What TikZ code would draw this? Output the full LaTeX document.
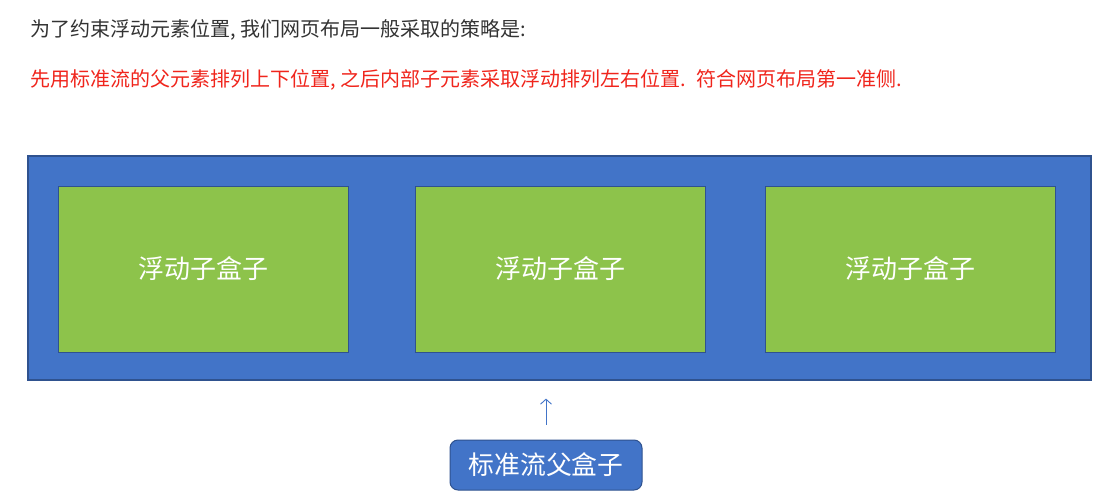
\documentclass[tikz,border=0pt]{standalone}
\usepackage{fontspec}
\newfontfamily\cjk{Noto Sans CJK SC}
\usetikzlibrary{arrows.meta}
\definecolor{parentblue}{HTML}{4274C8}
\definecolor{borderblue}{HTML}{2F528F}
\definecolor{childgreen}{HTML}{8DC34B}
\definecolor{notered}{HTML}{F0251C}
\definecolor{notegray}{HTML}{333333}
\tikzset{
    parentbox/.style={draw=borderblue, line width=1.2pt, fill=parentblue},
    childbox/.style={draw=borderblue, line width=1pt, fill=childgreen,
        text=white, font=\cjk\fontsize{26}{26}\selectfont},
    tagbox/.style={draw=borderblue, line width=1pt, fill=parentblue, rounded corners=8pt,
        text=white, font=\cjk\fontsize{25.8}{25.8}\selectfont},
    note/.style={anchor=west, inner sep=0pt, font=\cjk\fontsize{20}{20}\selectfont}
}
\begin{document}
\begin{tikzpicture}[x=1pt, y=-1pt]
    \useasboundingbox[fill=white] (0,0) rectangle (1108,503);

    \node[note, text=notegray] (intro) at (30,30) {为了约束浮动元素位置, 我们网页布局一般采取的策略是:};
    \node[note, text=notered]  (rule)  at (30,80) {先用标准流的父元素排列上下位置, 之后内部子元素采取浮动排列左右位置. \ 符合网页布局第一准侧.};

    \node[parentbox, minimum width=1063pt, minimum height=224pt] (parent) at (559.5,268) {};
    \foreach \i/\x in {1/203.5, 2/560, 3/910}
    {
        \node[childbox, minimum width=290pt, minimum height=166pt] (child\i) at (\x,269) {浮动子盒子};
    }

    \node[tagbox, minimum width=192pt, minimum height=50pt] (tag) at (546,465) {标准流父盒子};
    \draw[-{Straight Barb[length=5pt, width=11pt]}, parentblue, line width=0.9pt,
        shorten <=15pt, shorten >=18pt] (tag.north) -- (tag.north |- parent.south);
\end{tikzpicture}
\end{document}
